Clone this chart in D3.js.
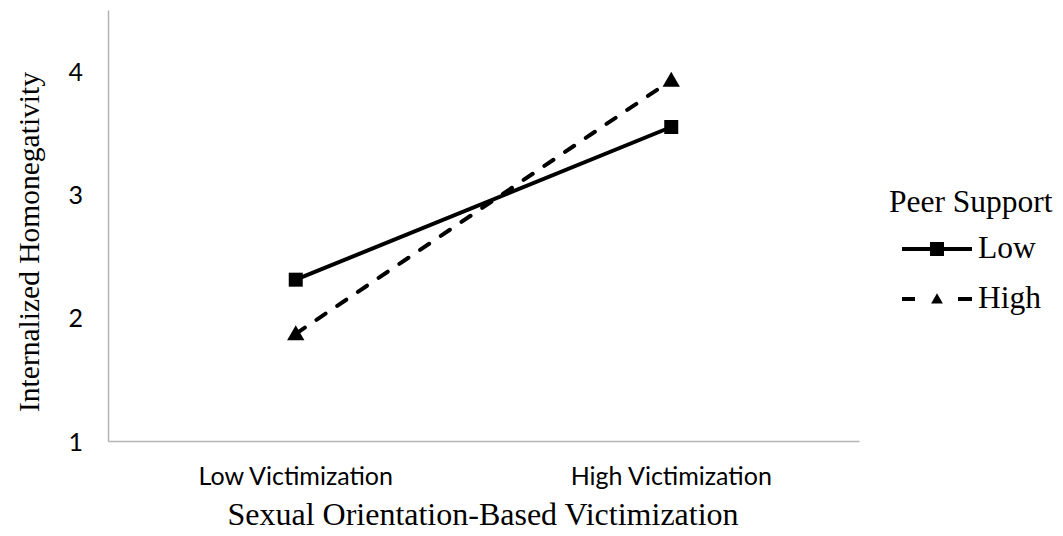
<!DOCTYPE html>
<html>
<head>
<meta charset="utf-8">
<script src="https://cdn.jsdelivr.net/npm/d3@7/dist/d3.min.js"></script>
<style>
  body { margin: 0; background: #fff; }
  svg { display: block; }
  .tick-label { font-family: Lato, "Liberation Sans", sans-serif; font-size: 25px; fill: #000; }
  .title { font-family: "Liberation Serif", "Times New Roman", serif; font-size: 31.5px; fill: #000; }
</style>
</head>
<body>
<svg id="chart" width="1063" height="536"></svg>
<script>
// data
const categories = ["Low Victimization", "High Victimization"];
const lowSupport = [2.31, 3.55];
const highSupport = [1.87, 3.93];
const yTicks = [1, 2, 3, 4];
const seriesNames = ["Low", "High"];

const svg = d3.select("#chart");
const plot = { left: 108, right: 859, top: 10, bottom: 441 };

const x = d3.scaleBand().domain(categories).range([plot.left, plot.right]).padding(0);
const y = d3.scaleLinear().domain([1, 4.5]).range([plot.bottom, plot.top]);

// axes: plain grey lines, no tick marks
const yAxis = d3.axisLeft(y).tickValues(yTicks).tickSize(0).tickPadding(25).tickFormat(d3.format("d"));
const xAxis = d3.axisBottom(x).tickSize(0).tickPadding(26);

const gy = svg.append("g").attr("transform", `translate(${plot.left},0)`).call(yAxis);
const gx = svg.append("g").attr("transform", `translate(0,${plot.bottom})`).call(xAxis);

[gx, gy].forEach(g => {
  g.select(".domain").attr("stroke", "#b4b4b4").attr("stroke-width", 1.5);
  g.selectAll(".tick text").attr("class", "tick-label").attr("fill", "#000");
});
gy.selectAll(".tick text").attr("dy", "0.36em");
gx.selectAll(".tick text").attr("dy", "0.71em");

// axis titles
svg.append("text").attr("class", "title")
  .attr("transform", `translate(39,242) rotate(-90)`)
  .attr("text-anchor", "middle")
  .style("font-size", "29.5px")
  .text("Internalized Homonegativity");

svg.append("text").attr("class", "title")
  .attr("x", 483).attr("y", 525)
  .attr("text-anchor", "middle")
  .style("font-size", "32px")
  .text("Sexual Orientation-Based Victimization");

// lines
const line = d3.line()
  .x((d, i) => x(categories[i]) + x.bandwidth() / 2)
  .y(d => y(d));

const series = [
  { name: seriesNames[0], values: lowSupport, dash: null, marker: "square" },
  { name: seriesNames[1], values: highSupport, dash: "11,14", marker: "triangle" }
];

const sqr = d3.symbol().type(d3.symbolSquare).size(196);
const tri = d3.symbol().type(d3.symbolTriangle).size(130);
const triSmall = d3.symbol().type(d3.symbolTriangle).size(60);

series.forEach(s => {
  svg.append("path")
    .datum(s.values)
    .attr("fill", "none")
    .attr("stroke", "#000")
    .attr("stroke-width", 4)
    .attr("stroke-linecap", s.dash ? "round" : "butt")
    .attr("stroke-dasharray", s.dash)
    .attr("d", line);

  svg.selectAll(null)
    .data(s.values)
    .join("path")
    .attr("transform", (d, i) => `translate(${x(categories[i]) + x.bandwidth() / 2},${y(d) + (s.marker === "triangle" ? 1.5 : 0)})`)
    .attr("d", s.marker === "square" ? sqr : tri)
    .attr("fill", "#000");
});

// legend
const lg = svg.append("g").attr("transform", "translate(889,0)");
lg.append("text").attr("class", "title").attr("x", 0).attr("y", 212).text("Peer Support");

const rows = lg.selectAll(".row")
  .data(series)
  .join("g")
  .attr("transform", (d, i) => `translate(0,${249 + i * 50})`);

rows.append("path")
  .attr("d", d3.line()([[13, 0], [83, 0]]))
  .attr("stroke", "#000")
  .attr("stroke-width", 4)
  .attr("stroke-dasharray", d => d.dash ? "13,43" : null);

rows.append("path")
  .attr("d", d3.line()([[70, 0], [83, 0]]))
  .attr("stroke", d => d.dash ? "#000" : "none")
  .attr("stroke-width", 4);

rows.append("path")
  .attr("transform", d => `translate(48,${d.marker === "triangle" ? 1 : 0})`)
  .attr("d", d => d.marker === "square" ? sqr() : triSmall())
  .attr("fill", "#000");

rows.append("text")
  .attr("class", "title")
  .attr("x", 89)
  .attr("y", 9)
  .text(d => d.name);
</script>
</body>
</html>
